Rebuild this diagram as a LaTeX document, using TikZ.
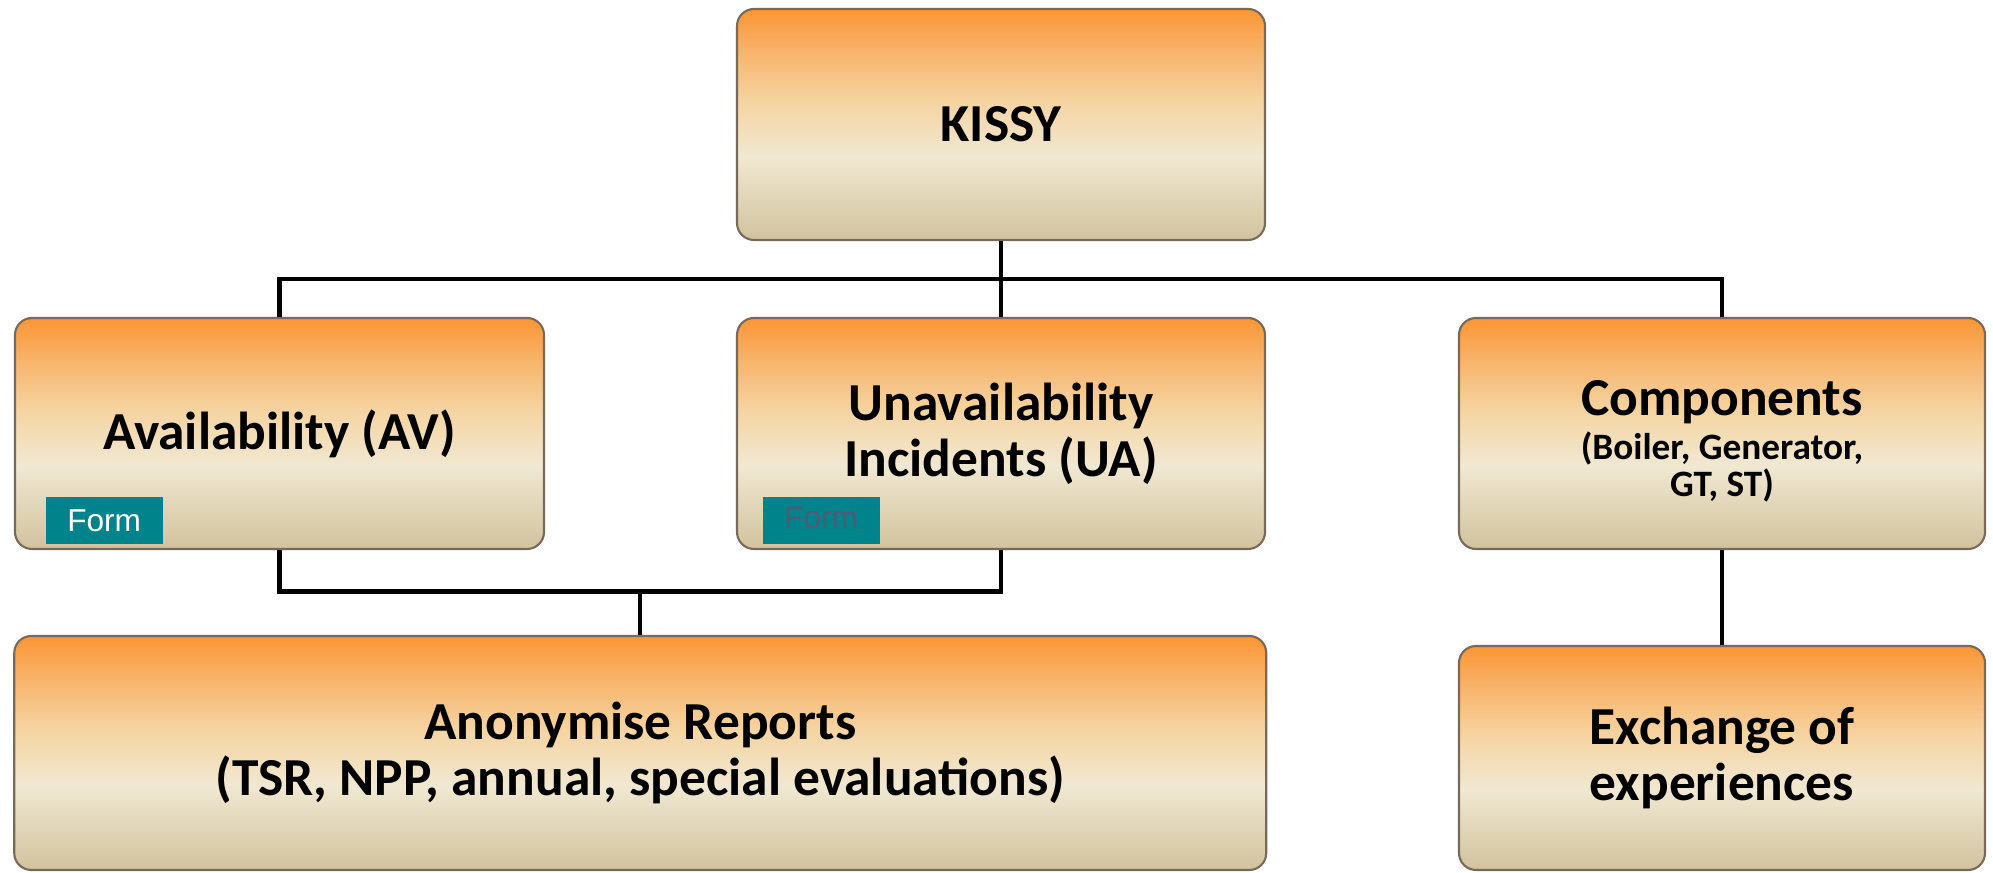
\documentclass[tikz,border=0pt]{standalone}
\usepackage{fontspec}
\setmainfont{Carlito}
\newfontfamily\formfont{Liberation Sans}
\usetikzlibrary{positioning, calc}

\definecolor{boxorange}{RGB}{250,150,52}
\definecolor{boxpeach}{RGB}{247,182,112}
\definecolor{boxsand}{RGB}{245,212,162}
\definecolor{boxcream}{RGB}{240,232,210}
\definecolor{boxlight}{RGB}{226,215,186}
\definecolor{boxtan}{RGB}{210,195,158}
\definecolor{boxedge}{RGB}{120,105,90}
\definecolor{formteal}{RGB}{0,131,138}
\definecolor{linkgray}{RGB}{78,90,118}

\pgfdeclareverticalshading{boxshade}{100bp}{color(0bp)=(boxtan); color(25bp)=(boxtan);
  color(35bp)=(boxlight); color(43bp)=(boxcream); color(55bp)=(boxsand);
  color(65bp)=(boxpeach); color(75bp)=(boxorange); color(100bp)=(boxorange)}

\newcommand{\subtext}{\fontsize{10.6}{10}\selectfont}

\begin{document}
\begin{tikzpicture}[on grid, node distance=3.09cm,
    block/.style={rectangle, rounded corners=0.17cm, draw=boxedge, line width=0.6pt,
      shading=boxshade, align=center, minimum height=2.31cm,
      font=\bfseries\fontsize{15.2}{16}\selectfont},
    form/.style={fill=formteal, anchor=south west, minimum width=1.17cm,
      minimum height=0.47cm, inner sep=0pt, font=\formfont\fontsize{9}{10}\selectfont},
    link/.style={line width=1.2pt}]
  \useasboundingbox (0,0) rectangle (19.93,8.73);

  \node[block, minimum width=5.28cm] (kissy) at (10.01,7.485) {KISSY};
  \node[block, minimum width=5.28cm] (ua) [below=of kissy] {Unavailability\\Incidents (UA)};
  \node[block, minimum width=5.29cm] (av) [left=7.215cm of ua] {Availability (AV)};
  \node[block, minimum width=5.26cm] (comp) [right=7.21cm of ua]
    {\rule{0pt}{14.5pt}Components\\[-3.6pt]{\subtext (Boiler, Generator,}\\[-5.5pt]{\subtext GT, ST)}};
  \node[block, minimum width=12.52cm, minimum height=2.34cm] (anon)
    at ($(av)!0.5!(ua)+(0,-3.195)$) {Anonymise Reports\\(TSR, NPP, annual, special evaluations)};
  \node[block, minimum width=5.26cm, minimum height=2.24cm] (exch) [below=3.245cm of comp]
    {Exchange of\\experiences};

  % form buttons
  \node[form, text=white] (avform) at ($(av.south west)+(0.31,0.05)$) {Form};
  \node[form, text=linkgray] (uaform) at ($(ua.south west)+(0.26,0.05)$) {\underline{Form}};

  \coordinate (hub) at ($(kissy.south)!0.5!(ua.north)$);
  \coordinate (split) at ($(anon.north)+(0,0.435)$);

  \draw[link] (kissy.south) -- (ua.north);
  \draw[link] (av.north) |- (hub) -| (comp.north);
  \draw[link] (av.south) |- (split) -| (ua.south);
  \draw[link] (anon.north) -- (split);
  \draw[link] (comp.south) -- (exch.north);
\end{tikzpicture}
\end{document}
